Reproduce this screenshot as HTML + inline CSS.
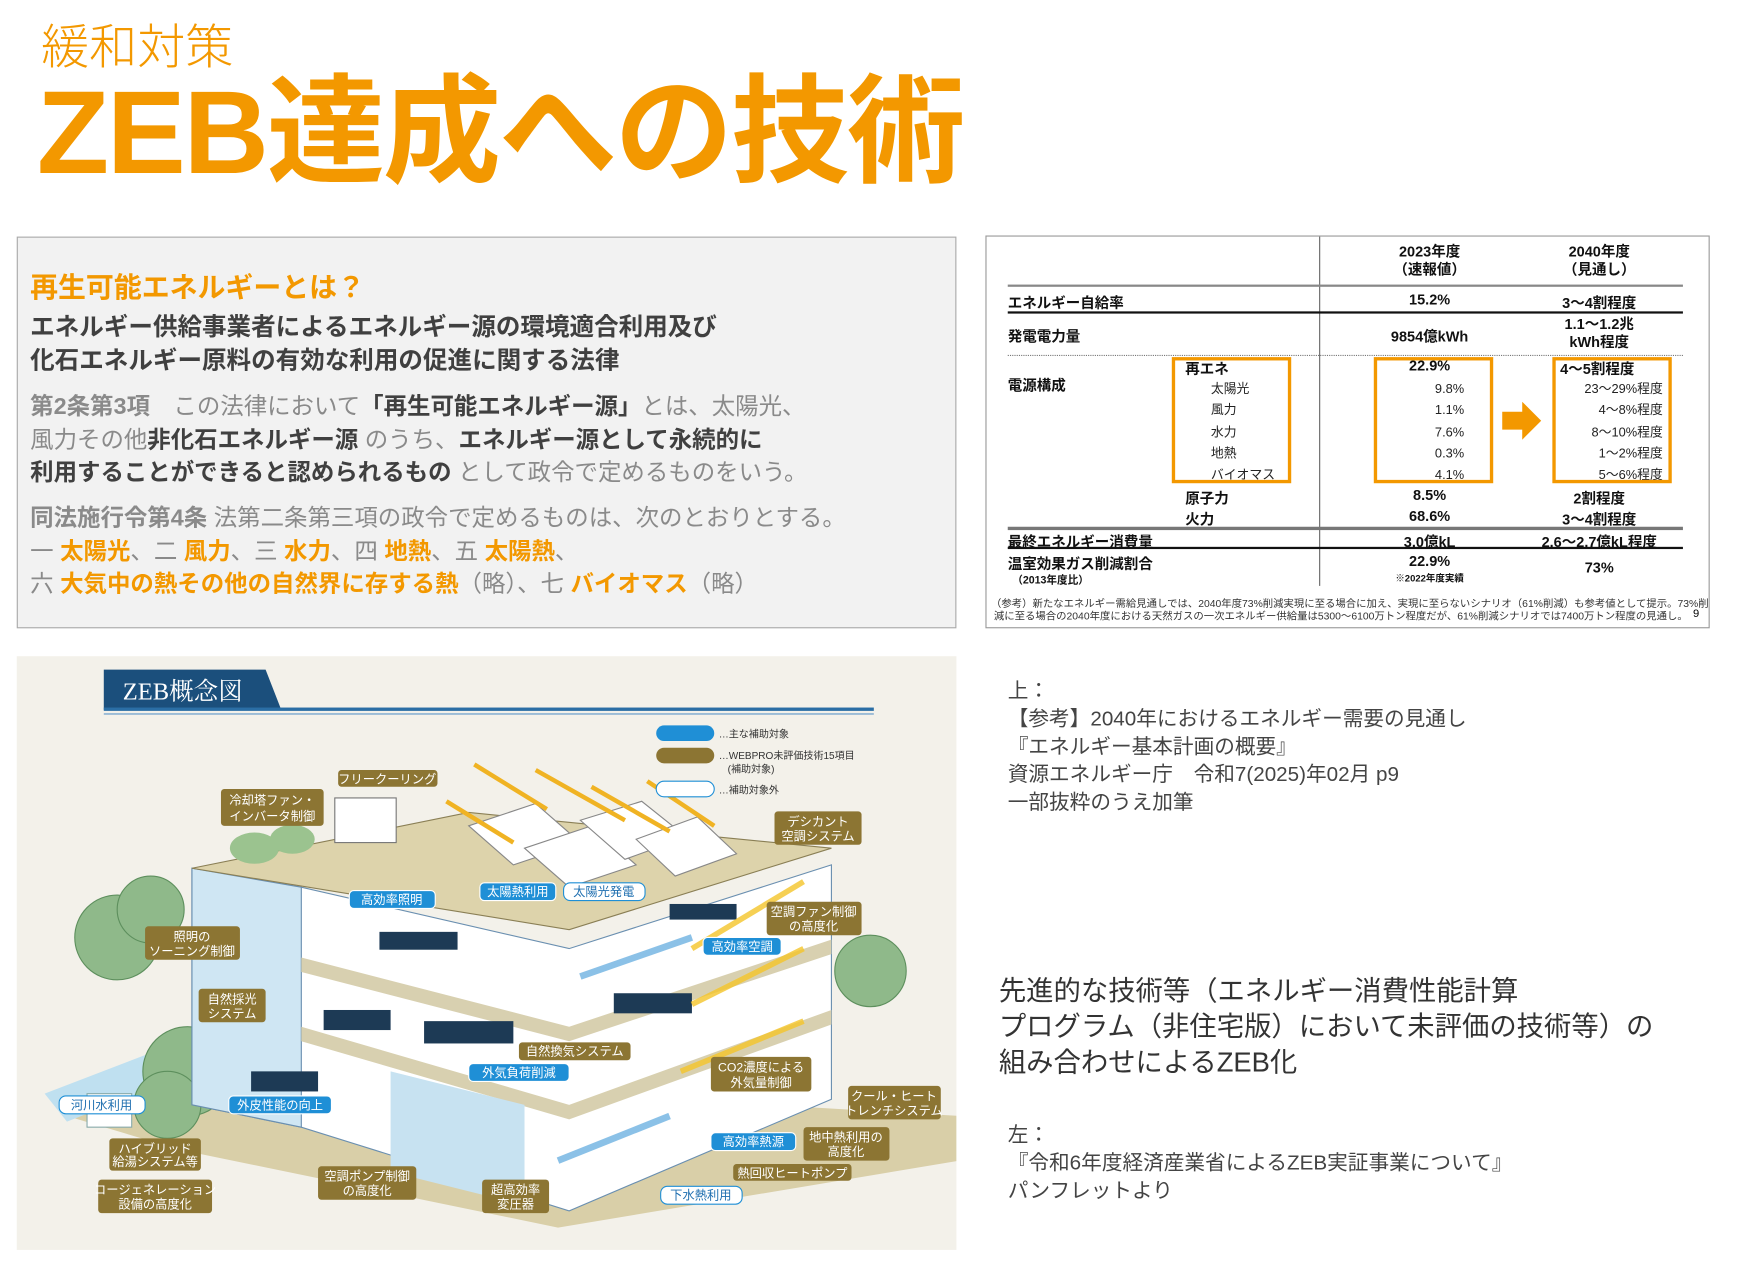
<!DOCTYPE html>
<html><head><meta charset="utf-8"><style>
*{margin:0;padding:0;box-sizing:border-box}
html,body{width:1750px;height:1265px;overflow:hidden;background:#fff}
#w{position:absolute;left:0;top:0;width:1550px;height:1120px;transform:scale(1.116);transform-origin:0 0;font-family:"Liberation Sans","Noto Sans CJK JP",sans-serif}
.a{position:absolute;white-space:nowrap}
.or{color:#f39800}
.b{font-weight:bold}
.t{position:absolute;white-space:nowrap;font-size:13px;font-weight:bold;color:#111;transform:translateX(-50%)}
.s{position:absolute;white-space:nowrap;font-size:11.5px;color:#222}
.ob{position:absolute;border:3px solid #f39800}
.hl{position:absolute;left:903px;width:605px}
</style></head><body><div id="w">
<div class="a or" style="left:37px;top:8px;font-size:43px;font-weight:300">緩和対策</div>
<div class="a or b" style="left:33px;top:54px;font-size:106px;letter-spacing:-2px;line-height:130px">ZEB達成への技術</div>

<div class="a" style="left:15px;top:212px;width:842px;height:351px;background:#f2f2f2;border:1px solid #aaa"></div>
<div class="a or b" style="left:27px;top:238px;font-size:25px">再生可能エネルギーとは？</div>
<div class="a b" style="left:27px;top:278px;font-size:22px;color:#404040;line-height:30px">エネルギー供給事業者によるエネルギー源の環境適合利用及び<br>化石エネルギー原料の有効な利用の促進に関する法律</div>
<div class="a" style="left:27px;top:350px;font-size:21px;color:#8a8a8a;line-height:29.5px">
<span class="b">第2条第3項</span>　この法律において<b style="color:#404040">「再生可能エネルギー源」</b>とは、太陽光、<br>
風力その他<b style="color:#404040">非化石エネルギー源</b> のうち、<b style="color:#404040">エネルギー源として永続的に</b><br>
<b style="color:#404040">利用することができると認められるもの</b> として政令で定めるものをいう。</div>
<div class="a" style="left:27px;top:450px;font-size:21px;color:#8a8a8a;line-height:29.5px">
<span class="b">同法施行令第4条</span> 法第二条第三項の政令で定めるものは、次のとおりとする。<br>
一 <b class="or">太陽光</b>、二 <b class="or">風力</b>、三 <b class="or">水力</b>、四 <b class="or">地熱</b>、五 <b class="or">太陽熱</b>、<br>
六 <b class="or">大気中の熱その他の自然界に存する熱</b>（略）、七 <b class="or">バイオマス</b>（略）</div>

<div class="a" style="left:883px;top:211px;width:649px;height:352px;border:1px solid #999;background:#fff"></div>
<div class="a" style="left:1182px;top:212px;width:1px;height:313px;background:#666"></div>
<div class="hl" style="top:255px;height:2px;background:#888"></div>
<div class="hl" style="top:279px;height:2px;background:#111"></div>
<div class="hl" style="top:318px;border-top:1px dotted #777"></div>
<div class="hl" style="top:472px;height:3px;background:#777"></div>
<div class="hl" style="top:490px;height:2px;background:#111"></div>
<div class="t" style="left:1281px;top:218px;text-align:center;line-height:16px">2023年度<br>（速報値）</div>
<div class="t" style="left:1433px;top:218px;text-align:center;line-height:16px">2040年度<br>（見通し）</div>
<div class="t" style="left:903px;top:261px;transform:none">エネルギー自給率</div>
<div class="t" style="left:1281px;top:261px">15.2%</div>
<div class="t" style="left:1433px;top:261px">3～4割程度</div>
<div class="t" style="left:903px;top:291px;transform:none">発電電力量</div>
<div class="t" style="left:1281px;top:291px">9854億kWh</div>
<div class="t" style="left:1433px;top:283px;text-align:center;line-height:16px">1.1～1.2兆<br>kWh程度</div>
<div class="t" style="left:903px;top:335px;transform:none">電源構成</div>
<div class="t" style="left:1062px;top:320px;transform:none">再エネ</div>
<div class="t" style="left:1281px;top:320px">22.9%</div>
<div class="t" style="left:1398px;top:320px;transform:none">4～5割程度</div>
<div class="s" style="left:1085px;top:340px;line-height:19.3px">太陽光<br>風力<br>水力<br>地熱<br>バイオマス</div>
<div class="s" style="left:1270px;top:340px;line-height:19.3px;text-align:right;width:42px">9.8%<br>1.1%<br>7.6%<br>0.3%<br>4.1%</div>
<div class="s" style="left:1408px;top:340px;line-height:19.3px;text-align:right;width:82px">23～29%程度<br>4～8%程度<br>8～10%程度<br>1～2%程度<br>5～6%程度</div>
<div class="ob" style="left:1050px;top:320px;width:107px;height:113px"></div>
<div class="ob" style="left:1231px;top:320px;width:107px;height:113px"></div>
<div class="ob" style="left:1391px;top:320px;width:107px;height:113px"></div>
<svg class="a" style="left:1346px;top:360px" width="36" height="34"><polygon points="0,9 18,9 18,0 35,17 18,34 18,25 0,25" fill="#f39800"/></svg>
<div class="t" style="left:1062px;top:436px;transform:none">原子力</div>
<div class="t" style="left:1281px;top:436px">8.5%</div>
<div class="t" style="left:1433px;top:436px">2割程度</div>
<div class="t" style="left:1062px;top:455px;transform:none">火力</div>
<div class="t" style="left:1281px;top:455px">68.6%</div>
<div class="t" style="left:1433px;top:455px">3～4割程度</div>
<div class="t" style="left:903px;top:475px;transform:none">最終エネルギー消費量</div>
<div class="t" style="left:1281px;top:475px">3.0億kL</div>
<div class="t" style="left:1433px;top:475px">2.6～2.7億kL程度</div>
<div class="t" style="left:903px;top:495px;transform:none">温室効果ガス削減割合</div>
<div class="t" style="left:907px;top:512px;transform:none;font-size:9.5px">（2013年度比）</div>
<div class="t" style="left:1281px;top:495px">22.9%</div>
<div class="t" style="left:1281px;top:512px;font-size:8.5px">※2022年度実績</div>
<div class="t" style="left:1433px;top:501px">73%</div>
<div class="a" style="left:888px;top:536px;font-size:9.3px;color:#333;line-height:11px">（参考）新たなエネルギー需給見通しでは、2040年度73%削減実現に至る場合に加え、実現に至らないシナリオ（61%削減）も参考値として提示。73%削<br>&nbsp;減に至る場合の2040年度における天然ガスの一次エネルギー供給量は5300～6100万トン程度だが、61%削減シナリオでは7400万トン程度の見通し。</div>
<div class="a" style="left:1517px;top:545px;font-size:10px">9</div>

<div class="a" style="left:15px;top:588px;width:842px;height:532px;background:#f3f1ea;overflow:hidden">
<svg width="842" height="532" viewBox="15 588 842 532" style="position:absolute;left:0;top:0;font-family:'Liberation Sans','Noto Sans CJK JP',sans-serif">
<polygon points="93,600 238,600 252,636 93,636" fill="#1b4f7c"/>
<rect x="93" y="634" width="690" height="3" fill="#2a6ea5"/>
<rect x="93" y="639" width="690" height="1.5" fill="#8fb4d4"/>
<text x="110" y="627" font-size="22" fill="#fff" font-family="Liberation Serif,Noto Serif CJK SC,serif">ZEB概念図</text>
<polygon points="60,1000 170,960 860,1000 860,1040 500,1100 160,1030" fill="#d9cfa8"/>
<polygon points="40,980 170,930 175,960 60,1005" fill="#bfe0f0"/>
<g fill="#8fb98a" stroke="#5d8f5d"><circle cx="105" cy="840" r="38"/><circle cx="135" cy="815" r="30"/><circle cx="780" cy="870" r="32"/><circle cx="168" cy="960" r="40"/><circle cx="150" cy="990" r="30"/></g>
<rect x="78" y="980" width="40" height="30" fill="#fff" stroke="#8aa"/>
<polygon points="172,778 270,795 510,850 745,775 745,985 510,1085 270,1010 172,990" fill="#fff" stroke="#6a8fb0"/>
<polygon points="172,778 270,795 270,1010 172,990" fill="#cfe6f3" stroke="#6a8fb0"/>
<polygon points="270,920 510,990 745,905 745,918 510,1003 270,933" fill="#d8d0b0"/>
<polygon points="270,858 510,920 745,842 745,855 510,933 270,871" fill="#d8d0b0"/>
<polygon points="350,960 470,990 470,1080 350,1050" fill="#c7e2f1"/>
<polygon points="172,778 420,728 745,760 510,833" fill="#ddd3ab" stroke="#8a7f55"/>
<rect x="300" y="715" width="55" height="40" fill="#fff" stroke="#777"/>
<g fill="#9bc38f"><ellipse cx="228" cy="760" rx="22" ry="14"/><ellipse cx="262" cy="752" rx="20" ry="13"/></g>
<g fill="#fff" stroke="#888"><polygon points="420,740 480,720 520,755 460,775"/><polygon points="470,760 530,740 570,775 510,795"/><polygon points="520,735 575,718 615,750 560,770"/><polygon points="570,752 625,732 660,765 605,785"/></g>
<g fill="#1d3a55"><rect x="340" y="835" width="70" height="16"/><rect x="600" y="810" width="60" height="14"/><rect x="290" y="905" width="60" height="18"/><rect x="380" y="915" width="80" height="20"/><rect x="550" y="890" width="70" height="18"/><rect x="225" y="960" width="60" height="18"/></g>
<g stroke="#f0b323" stroke-width="4"><line x1="425" y1="685" x2="490" y2="725"/><line x1="480" y1="690" x2="560" y2="735"/><line x1="530" y1="705" x2="600" y2="745"/><line x1="580" y1="700" x2="640" y2="740"/><line x1="400" y1="718" x2="460" y2="755"/></g>
<g stroke="#f5c52a" stroke-width="5" opacity=".8"><line x1="620" y1="850" x2="720" y2="790"/><line x1="620" y1="900" x2="720" y2="850"/><line x1="610" y1="960" x2="720" y2="915"/></g>
<g stroke="#5ba8de" stroke-width="6" opacity=".7"><line x1="520" y1="875" x2="620" y2="840"/><line x1="500" y1="1040" x2="600" y2="1000"/></g>
<rect x="588" y="650" width="52" height="14" rx="7" fill="#1f8fd6"/>
<rect x="588" y="670" width="52" height="14" rx="7" fill="#8c7533"/>
<rect x="588" y="700" width="52" height="14" rx="7" fill="#fff" stroke="#1f8fd6"/>
<g font-size="9" fill="#333"><text x="644" y="661">…主な補助対象</text><text x="644" y="680">…WEBPRO未評価技術15項目</text><text x="652" y="692">(補助対象)</text><text x="644" y="711">…補助対象外</text></g>
<g fill="#8c7533"><rect x="303" y="690" width="89" height="15" rx="3"/><rect x="198" y="707" width="92" height="33" rx="3"/><rect x="694" y="727" width="78" height="30" rx="3"/><rect x="687" y="808" width="85" height="30" rx="3"/><rect x="130" y="830" width="85" height="30" rx="3"/><rect x="178" y="886" width="60" height="30" rx="3"/><rect x="465" y="934" width="100" height="16" rx="3"/><rect x="637" y="947" width="90" height="31" rx="3"/><rect x="760" y="973" width="83" height="30" rx="3"/><rect x="98" y="1020" width="82" height="29" rx="3"/><rect x="720" y="1010" width="77" height="30" rx="3"/><rect x="657" y="1043" width="106" height="15" rx="3"/><rect x="285" y="1045" width="88" height="30" rx="3"/><rect x="432" y="1057" width="60" height="30" rx="3"/><rect x="88" y="1057" width="102" height="30" rx="3"/></g>
<g fill="#fff" font-size="11" text-anchor="middle">
<text x="347" y="702">フリークーリング</text><text x="244" y="721">冷却塔ファン・</text><text x="244" y="735">インバータ制御</text>
<text x="733" y="740">デシカント</text><text x="733" y="753">空調システム</text>
<text x="729" y="821">空調ファン制御</text><text x="729" y="834">の高度化</text>
<text x="172" y="843">照明の</text><text x="172" y="856">ソーニング制御</text>
<text x="208" y="899">自然採光</text><text x="208" y="912">システム</text>
<text x="515" y="946">自然換気システム</text>
<text x="682" y="960">CO2濃度による</text><text x="682" y="974">外気量制御</text>
<text x="801" y="986">クール・ヒート</text><text x="801" y="999">トレンチシステム</text>
<text x="139" y="1033">ハイブリッド</text><text x="139" y="1045">給湯システム等</text>
<text x="758" y="1023">地中熱利用の</text><text x="758" y="1036">高度化</text>
<text x="710" y="1055">熱回収ヒートポンプ</text>
<text x="329" y="1058">空調ポンプ制御</text><text x="329" y="1071">の高度化</text>
<text x="462" y="1070">超高効率</text><text x="462" y="1083">変圧器</text>
<text x="139" y="1070">コージェネレーション</text><text x="139" y="1083">設備の高度化</text></g>
<g fill="#1f8fd6" stroke="#fff"><rect x="313" y="798" width="77" height="16" rx="4"/><rect x="430" y="791" width="68" height="16" rx="4"/><rect x="630" y="840" width="70" height="16" rx="4"/><rect x="420" y="953" width="90" height="16" rx="4"/><rect x="205" y="982" width="92" height="16" rx="4"/><rect x="637" y="1015" width="76" height="16" rx="4"/></g>
<g fill="#fff" stroke="#1f8fd6"><rect x="505" y="791" width="73" height="16" rx="6"/><rect x="53" y="982" width="77" height="16" rx="6"/><rect x="592" y="1063" width="73" height="16" rx="6"/></g>
<g font-size="11" text-anchor="middle">
<g fill="#fff"><text x="351" y="810">高効率照明</text><text x="464" y="803">太陽熱利用</text><text x="665" y="852">高効率空調</text><text x="465" y="965">外気負荷削減</text><text x="251" y="994">外皮性能の向上</text><text x="675" y="1027">高効率熱源</text></g>
<g fill="#1f6fb0"><text x="541" y="803">太陽光発電</text><text x="91" y="994">河川水利用</text><text x="628" y="1075">下水熱利用</text></g></g>
</svg></div>

<div class="a" style="left:903px;top:606px;font-size:18.5px;color:#444;line-height:25px">上：<br>【参考】2040年におけるエネルギー需要の見通し<br>『エネルギー基本計画の概要』<br>資源エネルギー庁　令和7(2025)年02月 p9<br>一部抜粋のうえ加筆</div>
<div class="a" style="left:895px;top:873px;font-size:24.5px;color:#333;line-height:32px">先進的な技術等（エネルギー消費性能計算<br>プログラム（非住宅版）において未評価の技術等）の<br>組み合わせによるZEB化</div>
<div class="a" style="left:903px;top:1004px;font-size:18.5px;color:#444;line-height:25px">左：<br>『令和6年度経済産業省によるZEB実証事業について』<br>パンフレットより</div>
</div></body></html>
